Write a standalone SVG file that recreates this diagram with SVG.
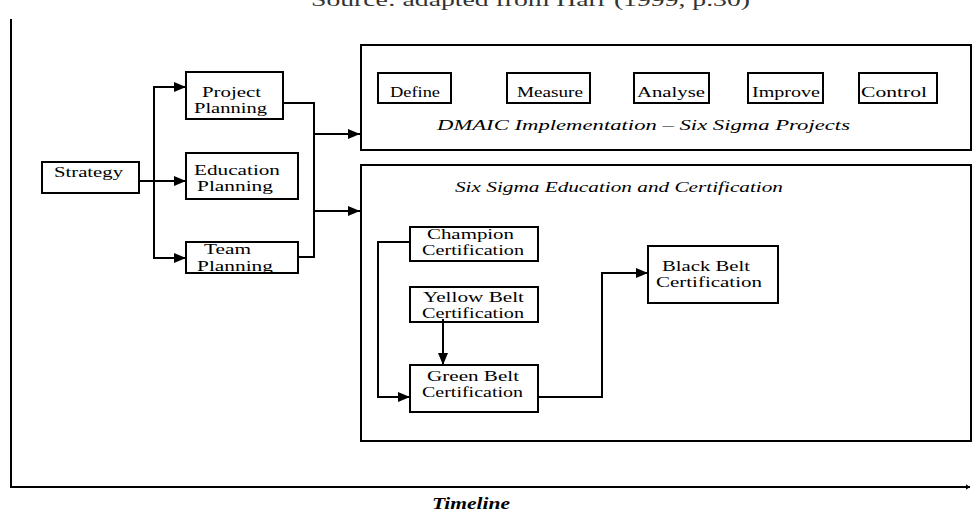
<svg xmlns="http://www.w3.org/2000/svg" width="973" height="514" viewBox="0 0 973 514">
<style>
.box{fill:#fff;stroke:#000;stroke-width:2}
.frame{fill:none;stroke:#000;stroke-width:2}
.t{font-family:"Liberation Serif","Times New Roman",serif;font-size:15px;fill:#000}
.it{font-family:"Liberation Serif","Times New Roman",serif;font-size:15px;font-style:italic;fill:#000}
.ln{fill:none;stroke:#000;stroke-width:2}
</style>
<defs>
<marker id="ah" viewBox="0 0 12 10" refX="12" refY="5" markerWidth="12" markerHeight="10" markerUnits="userSpaceOnUse" orient="auto">
<path d="M0,0 L12,5 L0,10 Z" fill="#000"/>
</marker>
<marker id="ahs" viewBox="0 0 6 8" refX="6" refY="4" markerWidth="4" markerHeight="8" markerUnits="userSpaceOnUse" orient="auto">
<path d="M0,0 L6,4 L0,8 Z" fill="#000"/>
</marker>
</defs>
<rect width="973" height="514" fill="#fff"/>
<text x="311" y="6" font-family="Liberation Serif, serif" font-size="19" fill="#333" textLength="439" lengthAdjust="spacingAndGlyphs">Source: adapted from Harr (1999, p.30)</text>

<g id="axes">
<path class="ln" d="M11,19 V487 H970" marker-end="url(#ahs)"/>
<text x="432" y="509" font-family="Liberation Serif, serif" font-size="16" font-weight="bold" font-style="italic" textLength="78" lengthAdjust="spacingAndGlyphs">Timeline</text>
</g>

<g id="dmaic">
<rect class="frame" x="361" y="45" width="610" height="105"/>
<text class="it" x="437" y="130" textLength="413" lengthAdjust="spacingAndGlyphs">DMAIC Implementation – Six Sigma Projects</text>
</g>
<g id="define"><rect class="box" x="378" y="73" width="73" height="30"/><text class="t" x="390" y="97" textLength="50" lengthAdjust="spacingAndGlyphs">Define</text></g>
<g id="measure"><rect class="box" x="507" y="73" width="83" height="30"/><text class="t" x="517" y="97" textLength="66" lengthAdjust="spacingAndGlyphs">Measure</text></g>
<g id="analyse"><rect class="box" x="634" y="73" width="75" height="30"/><text class="t" x="637" y="97" textLength="68" lengthAdjust="spacingAndGlyphs">Analyse</text></g>
<g id="improve"><rect class="box" x="748" y="73" width="75" height="30"/><text class="t" x="752" y="97" textLength="68" lengthAdjust="spacingAndGlyphs">Improve</text></g>
<g id="control"><rect class="box" x="859" y="73" width="78" height="30"/><text class="t" x="861" y="97" textLength="66" lengthAdjust="spacingAndGlyphs">Control</text></g>

<g id="education">
<rect class="frame" x="361" y="165" width="610" height="276"/>
<text class="it" x="455" y="192" textLength="328" lengthAdjust="spacingAndGlyphs">Six Sigma Education and Certification</text>
</g>

<g id="strategy"><rect class="box" x="42" y="162" width="97" height="31"/><text class="t" x="54" y="177" textLength="69" lengthAdjust="spacingAndGlyphs">Strategy</text></g>
<g id="project-planning"><rect class="box" x="186" y="72" width="97" height="47"/><text class="t" x="202" y="97" textLength="59" lengthAdjust="spacingAndGlyphs">Project</text><text class="t" x="194" y="113" textLength="73" lengthAdjust="spacingAndGlyphs">Planning</text></g>
<g id="education-planning"><rect class="box" x="186" y="153" width="112" height="46"/><text class="t" x="194" y="175" textLength="86" lengthAdjust="spacingAndGlyphs">Education</text><text class="t" x="197" y="191" textLength="76" lengthAdjust="spacingAndGlyphs">Planning</text></g>
<g id="team-planning"><rect class="box" x="186" y="242" width="112" height="31"/><text class="t" x="204" y="254" textLength="47" lengthAdjust="spacingAndGlyphs">Team</text><text class="t" x="197" y="271" textLength="76" lengthAdjust="spacingAndGlyphs">Planning</text></g>

<g id="champion"><rect class="box" x="410" y="227" width="128" height="34"/><text class="t" x="427" y="239" textLength="87" lengthAdjust="spacingAndGlyphs">Champion</text><text class="t" x="422" y="255" textLength="102" lengthAdjust="spacingAndGlyphs">Certification</text></g>
<g id="yellow-belt"><rect class="box" x="410" y="287" width="128" height="35"/><text class="t" x="423" y="302" textLength="101" lengthAdjust="spacingAndGlyphs">Yellow Belt</text><text class="t" x="422" y="318" textLength="102" lengthAdjust="spacingAndGlyphs">Certification</text></g>
<g id="green-belt"><rect class="box" x="410" y="365" width="128" height="47"/><text class="t" x="427" y="381" textLength="92" lengthAdjust="spacingAndGlyphs">Green Belt</text><text class="t" x="422" y="397" textLength="101" lengthAdjust="spacingAndGlyphs">Certification</text></g>
<g id="black-belt"><rect class="box" x="648" y="246" width="130" height="57"/><text class="t" x="662" y="271" textLength="88" lengthAdjust="spacingAndGlyphs">Black Belt</text><text class="t" x="656" y="287" textLength="106" lengthAdjust="spacingAndGlyphs">Certification</text></g>

<g id="connectors">
<path class="ln" d="M139,181 H186" marker-end="url(#ah)"/>
<path class="ln" d="M154,181 V87 H186" marker-end="url(#ah)"/>
<path class="ln" d="M154,181 V258 H186" marker-end="url(#ah)"/>
<path class="ln" d="M283,103 H314 V257 H298"/>
<path class="ln" d="M314,134 H360" marker-end="url(#ah)"/>
<path class="ln" d="M314,211 H360" marker-end="url(#ah)"/>
<path class="ln" d="M410,242 H378 V397 H410" marker-end="url(#ah)"/>
<path class="ln" d="M443,319 V365" marker-end="url(#ah)"/>
<path class="ln" d="M538,397 H602 V273 H648" marker-end="url(#ah)"/>
</g>
</svg>
